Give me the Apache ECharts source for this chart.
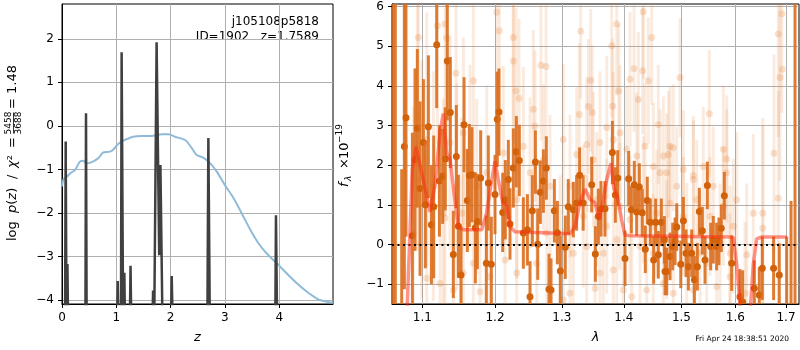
<!DOCTYPE html>
<html>
<head>
<meta charset="utf-8">
<title>redshift fit</title>
<script src="https://cdn.jsdelivr.net/npm/echarts@6.0.0/dist/echarts.min.js"></script>
<style>
	html, body { margin: 0; padding: 0; background: #fff; }
	#chart { width: 800px; height: 350px; }
</style>
</head>
<body>
<div id="chart"></div>
<script>
// ---- left panel: p(z) and chi2 ----
const zTicks = [0, 1, 2, 3, 4]
const pzTicks = [-4, -3, -2, -1, 0, 1, 2]

// chi2 curve (scaled), light blue
const chiZ = [0, 0.03, 0.086, 0.16, 0.24, 0.33, 0.39, 0.455, 0.547, 0.67, 0.76, 0.885, 0.946, 1.04, 1.13, 1.31, 1.47, 1.65, 1.84, 1.96, 2.08, 2.24, 2.3, 2.39, 2.48, 2.6, 2.73, 2.85, 3.0, 3.16, 3.31, 3.47, 3.62, 3.77, 3.96, 4.14, 4.33, 4.51, 4.7, 4.88, 4.99]
const chiVal = [-1.39, -1.22, -1.17, -1.08, -1.01, -0.82, -0.8, -0.86, -0.83, -0.74, -0.61, -0.59, -0.54, -0.41, -0.34, -0.25, -0.23, -0.23, -0.19, -0.19, -0.25, -0.31, -0.36, -0.51, -0.67, -0.73, -0.86, -1.05, -1.36, -1.66, -2.01, -2.39, -2.7, -2.93, -3.16, -3.39, -3.62, -3.81, -3.97, -4.04, -4.06]

// log p(z), dark spikes (values under -4.1 are off the axis)
const pzZ = [0, 0.055, 0.068, 0.082, 0.1, 0.115, 0.43, 0.442, 0.455, 1.01, 1.026, 1.042, 1.085, 1.098, 1.104, 1.125, 1.148, 1.165, 1.245, 1.262, 1.28, 1.66, 1.677, 1.7, 1.742, 1.765, 1.79, 1.812, 1.83, 1.855, 2.0, 2.02, 2.045, 2.675, 2.695, 2.705, 2.725, 3.925, 3.94, 3.95, 3.965, 4.99]
const pzVal = [-5, -5, -0.36, -4.5, -3.17, -5, -5, 0.29, -5, -5, -3.56, -5, -5, 1.69, 1.69, -4.5, -3.37, -5, -5, -3.21, -5, -5, -3.78, -4.3, 1.92, 1.92, -2.97, -0.9, -0.9, -5, -5, -3.45, -5, -5, -0.28, -0.28, -5, -5, -2.05, -2.05, -5, -5]

// ---- right panel: spectrum ----
const lamTicks = [1.1, 1.2, 1.3, 1.4, 1.5, 1.6, 1.7]
const fluxTicks = [-1, 0, 1, 2, 3, 4, 5, 6]

const darkWave = [1.062, 1.065, 1.0732, 1.0766, 1.0787, 1.087, 1.0904, 1.0935, 1.097, 1.1014, 1.104, 1.108, 1.112, 1.1151, 1.1191, 1.1227, 1.1271, 1.1307, 1.1334, 1.1375, 1.1416, 1.1457, 1.1485, 1.1521, 1.1563, 1.1609, 1.1637, 1.1674, 1.1721, 1.1749, 1.1796, 1.1876, 1.1904, 1.1947, 1.2, 1.2033, 1.2057, 1.2111, 1.2149, 1.2193, 1.2217, 1.2266, 1.231, 1.2354, 1.2414, 1.2474, 1.2513, 1.2548, 1.2594, 1.2629, 1.2669, 1.2715, 1.276, 1.2801, 1.2832, 1.2883, 1.293, 1.2976, 1.3053, 1.31, 1.3179, 1.3231, 1.3279, 1.3335, 1.3472, 1.3531, 1.358, 1.3623, 1.3688, 1.381, 1.3859, 1.3898, 1.402, 1.4082, 1.4127, 1.4177, 1.4217, 1.4262, 1.4313, 1.4365, 1.4399, 1.4451, 1.4509, 1.4544, 1.459, 1.4643, 1.4696, 1.4708, 1.4738, 1.4797, 1.4844, 1.4886, 1.4916, 1.4988, 1.5035, 1.5083, 1.5125, 1.5185, 1.5234, 1.5288, 1.5325, 1.538, 1.5429, 1.5472, 1.5534, 1.5583, 1.5645, 1.5689, 1.5733, 1.579, 1.5929, 1.6088, 1.614, 1.6367, 1.6465, 1.6524, 1.6749, 1.6863, 1.7013, 1.7102, 1.7184]
const darkFlux = [-3, -3, -2.0, 2.47, 3.2, 0.22, 2.14, 2.93, 1.41, 2.57, 1.0, 2.97, 0.5, 0.95, 5.04, 1.6, 1.72, 2.16, 4.63, 3.33, -0.25, 2.22, 0.46, -0.77, 3.02, 1.11, 1.74, 1.76, 0.42, 0.58, 1.68, -0.47, 1.55, -0.5, 1.26, 3.16, 3.34, 0.81, 1.13, 1.64, 0.52, 1.93, 2.34, 2.12, 0.29, 0.37, -1.32, 0.85, 2.08, 0.01, 1.32, 1.6, 1.93, -1.13, -1.15, 0.85, 0.3, -0.67, -0.07, 0.95, 0.88, 1.05, 1.75, 1.05, 1.51, -0.24, 0.71, 0.9, 0.9, 2.32, 1.25, 1.68, -0.35, 1.66, 0.88, 1.51, 0.82, 1.45, 0.8, -0.12, 1.11, 0.56, -0.39, 0.56, -0.26, 0.56, 0.12, -0.68, -0.68, -0.3, -0.05, 0.08, 0.44, -0.5, 0.6, -0.22, -0.56, -0.22, -0.89, -0.56, 0.83, 0.35, -0.39, 1.49, -0.05, 0.12, -0.05, 0.08, 0.41, 1.23, -0.47, -1.32, -1.45, -1.1, -1.27, -0.6, -0.6, -0.77, -2.0, -2.0, -3]
const darkErr = [10, 10, 3.9, 3.6, 3.0, 2.6, 2.3, 2.0, 2.2, 1.6, 1.6, 1.8, 1.5, 1.8, 1.6, 1.4, 1.2, 1.3, 1.5, 1.4, 1.1, 1.3, 1.3, 1.2, 1.2, 1.3, 1.3, 1.2, 1.4, 1.2, 1.2, 1.2, 1.2, 1.2, 1.0, 1.2, 1.1, 1.0, 1.0, 1.0, 0.9, 1.0, 0.9, 0.9, 0.9, 0.9, 0.9, 0.9, 0.8, 0.9, 0.8, 0.8, 0.8, 0.9, 0.8, 0.8, 0.8, 0.9, 0.8, 0.7, 0.7, 0.7, 0.7, 0.7, 0.7, 0.7, 0.7, 0.7, 0.7, 0.8, 0.7, 0.7, 0.7, 0.7, 0.6, 0.6, 0.6, 0.6, 0.6, 0.6, 0.6, 0.6, 0.6, 0.6, 0.6, 0.6, 0.6, 0.6, 0.6, 0.6, 0.6, 0.6, 0.6, 0.6, 0.6, 0.6, 0.6, 0.6, 0.6, 0.6, 0.6, 0.6, 0.6, 0.6, 0.6, 0.6, 0.6, 0.6, 0.6, 0.6, 0.7, 0.7, 0.8, 0.7, 0.7, 0.8, 0.8, 0.8, 2.2, 3.1, 10]

// faint points (other exposures)
const fadeWave = [1.0882, 1.0935, 1.0948, 1.0992, 1.1058, 1.1058, 1.1146, 1.12, 1.1236, 1.1281, 1.1303, 1.1303, 1.1326, 1.1371, 1.1416, 1.1453, 1.1463, 1.1554, 1.1554, 1.1531, 1.1646, 1.1693, 1.1693, 1.1741, 1.1787, 1.1881, 1.1928, 1.2024, 1.2062, 1.212, 1.2144, 1.2266, 1.2266, 1.2306, 1.2316, 1.2316, 1.235, 1.2414, 1.2513, 1.2563, 1.2588, 1.2614, 1.2679, 1.2715, 1.2756, 1.2766, 1.2817, 1.2971, 1.3022, 1.3022, 1.3127, 1.3127, 1.3179, 1.3233, 1.3274, 1.3296, 1.3338, 1.3392, 1.3392, 1.3418, 1.3456, 1.3482, 1.3498, 1.3526, 1.3553, 1.3607, 1.3607, 1.3661, 1.3717, 1.3717, 1.3799, 1.3816, 1.3826, 1.3826, 1.3882, 1.3882, 1.3915, 1.3937, 1.3937, 1.3993, 1.405, 1.4105, 1.4105, 1.4134, 1.4173, 1.4219, 1.4246, 1.4274, 1.432, 1.4331, 1.4331, 1.436, 1.4389, 1.4417, 1.4475, 1.4503, 1.4503, 1.4562, 1.459, 1.462, 1.4678, 1.4678, 1.4737, 1.4737, 1.4766, 1.4796, 1.4796, 1.4855, 1.4855, 1.4915, 1.4974, 1.5034, 1.5034, 1.5095, 1.5215, 1.5215, 1.5215, 1.5277, 1.5337, 1.5398, 1.546, 1.5509, 1.5522, 1.5584, 1.5647, 1.5709, 1.5771, 1.5771, 1.5835, 1.5835, 1.5898, 1.5898, 1.5961, 1.6026, 1.6186, 1.6219, 1.6347, 1.6534, 1.6534, 1.6757, 1.6844, 1.6844, 1.6878, 1.6913, 1.6925]
const fadeFlux = [0.29, 3.24, 5.22, 1.64, -0.85, 2.65, 1.47, 5.52, -0.98, 0.79, 5.56, 0.67, 5.21, 2.57, -1.15, 4.32, 1.47, 2.82, -0.72, 0.79, 2.23, 4.13, -0.47, 1.47, -1.19, 1.81, -0.81, 5.86, 5.39, 2.31, -0.39, 5.22, 4.63, 3.87, 1.13, -0.72, 3.69, 2.48, 1.81, 3.41, 2.99, -0.47, 4.52, 2.14, 4.49, 0.29, 1.47, -0.05, 2.65, -1.4, 1.47, -1.23, -0.22, 2.27, 3.28, 5.38, 0.71, 2.52, -0.05, 3.48, 4.14, 3.33, 2.14, -1.1, 1.13, 2.57, -0.72, -0.22, 2.95, 0.46, 5.01, 3.49, 2.65, -0.64, 5.56, 0.12, 3.87, 2.82, 0.96, -1.15, 2.4, 4.17, 0.63, -1.32, 4.44, 2.23, 3.66, -0.05, 4.38, 5.87, 1.13, 2.48, -1.15, 4.13, 5.22, 1.97, -0.22, 0.79, 3.03, 1.81, 2.23, -0.98, 1.81, 0.12, 2.27, 1.05, 2.48, 2.44, -1.23, 1.47, 4.21, 1.89, 0.71, -0.05, 1.64, -1.15, 1.74, 1.13, -0.22, 1.97, -0.47, 3.3, 0.71, 1.47, -1.06, 0.04, 2.4, 0.96, 1.81, 2.16, -0.81, -0.22, 0.46, 1.13, -1.23, -0.26, 0.79, 0.79, 0.41, 2.3, 5.31, 1.17, 4.21, 5.82, 4.42]
const fadeErr = [3.2, 3.4, 3.3, 3.0, 3.1, 3.2, 2.9, 3.0, 2.8, 2.9, 2.7, 2.8, 2.6, 2.7, 2.6, 2.5, 2.6, 2.4, 2.5, 2.4, 2.3, 2.4, 2.3, 2.2, 2.3, 2.2, 2.3, 2.2, 2.1, 2.2, 2.1, 2.2, 2.0, 2.1, 2.0, 2.1, 2.0, 2.0, 1.9, 2.0, 1.9, 2.0, 1.9, 1.9, 1.8, 1.9, 1.8, 1.8, 1.9, 1.8, 1.8, 1.7, 1.8, 1.7, 1.8, 1.7, 1.8, 1.7, 1.8, 1.7, 1.8, 1.7, 1.7, 1.8, 1.7, 1.8, 1.7, 1.7, 1.8, 1.7, 1.8, 1.7, 1.7, 1.7, 1.8, 1.6, 1.7, 1.7, 1.6, 1.7, 1.6, 1.7, 1.6, 1.7, 1.6, 1.6, 1.7, 1.6, 1.6, 1.7, 1.6, 1.6, 1.6, 1.6, 1.7, 1.6, 1.5, 1.6, 1.5, 1.6, 1.5, 1.6, 1.5, 1.5, 1.6, 1.5, 1.5, 1.6, 1.5, 1.5, 1.5, 1.5, 1.5, 1.6, 1.5, 1.5, 1.5, 1.5, 1.6, 1.5, 1.5, 1.6, 1.5, 1.5, 1.6, 1.5, 1.6, 1.5, 1.6, 1.6, 1.6, 1.7, 1.7, 1.7, 1.8, 1.8, 2.0, 2.4, 2.6, 2.5, 2.6, 2.7, 2.6, 2.5]

// best-fit model
const modelWave = [1.076, 1.0804, 1.0869, 1.0917, 1.097, 1.1036, 1.1102, 1.1168, 1.1236, 1.128, 1.1326, 1.1371, 1.1425, 1.1484, 1.1553, 1.1811, 1.1881, 1.1953, 1.2, 1.2047, 1.2111, 1.2169, 1.2217, 1.2291, 1.3127, 1.3205, 1.3285, 1.3364, 1.3445, 1.3526, 1.3596, 1.3661, 1.3717, 1.3788, 1.3837, 1.3892, 1.3965, 1.402, 1.4104, 1.5897, 1.596, 1.6025, 1.6088, 1.614, 1.625, 1.6296, 1.6347, 1.6413, 1.6512, 1.7013]
const modelFlux = [-3, -1.5, 1.9, 2.47, 2.0, 1.42, 0.82, 1.5, 2.85, 3.3, 2.3, 2.15, 1.3, 0.45, 0.37, 0.37, 0.8, 1.64, 2.1, 1.64, 1.05, 1.0, 0.45, 0.32, 0.27, 0.45, 1.05, 1.4, 1.14, 1.05, 0.62, 1.14, 1.64, 2.05, 1.4, 1.22, 0.62, 0.24, 0.22, 0.19, 0.17, -0.5, -1.5, -3, -3, -1.5, -0.5, 0.14, 0.19, 0.19]

const font = "DejaVu Sans"
const minus = (v) => (v < 0 ? "\u2212" + Math.abs(v) : String(v))

function errBars(barColor, dotColor, barWidth, radius) {
	return function (params, api) {
		const x = api.value(0)
		const y = api.value(1)
		const e = api.value(2)
		const lo = api.coord([x, y - e])
		const hi = api.coord([x, y + e])
		const c = api.coord([x, y])
		return {
			type: "group",
			children: [
				{
					type: "line",
					shape: { x1: lo[0], y1: lo[1], x2: hi[0], y2: hi[1] },
					style: { stroke: barColor, lineWidth: barWidth },
				},
				{
					type: "circle",
					shape: { cx: c[0], cy: c[1], r: radius },
					style: { fill: dotColor },
				},
			],
		}
	}
}

function axisStyle(ticks, fmt) {
	return {
		axisLine: { show: true, onZero: false, lineStyle: { color: "#000", width: 1 } },
		axisTick: { show: true, length: 4, customValues: ticks, lineStyle: { color: "#000" } },
		axisLabel: { customValues: ticks, color: "#000", fontSize: 12, fontFamily: font, formatter: fmt },
		splitLine: { show: true, lineStyle: { color: "#b0b0b0", width: 1 } },
	}
}

const frame = { show: true, borderColor: "#000", borderWidth: 1, backgroundColor: "transparent" }

const myChart = echarts.init(document.getElementById("chart"), null, { renderer: "canvas" })

let option = {
	animation: false,
	grid: [
		Object.assign({ left: 62, top: 4, width: 271, height: 300 }, frame),
		Object.assign({ left: 392, top: 4, width: 407, height: 300 }, frame),
	],
	xAxis: [
		Object.assign(
			{
				gridIndex: 0,
				type: "value",
				min: 0,
				max: 4.99,
				name: "z",
				nameLocation: "middle",
				nameGap: 27,
				nameTextStyle: { fontStyle: "italic", fontSize: 13, color: "#000", fontFamily: font },
			},
			axisStyle(zTicks, minus)
		),
		Object.assign(
			{
				gridIndex: 1,
				type: "log",
				logBase: 10,
				min: 1.0608,
				max: 1.7266,
				name: "λ",
				nameLocation: "middle",
				nameGap: 27,
				nameTextStyle: { fontStyle: "italic", fontSize: 13, color: "#000", fontFamily: font },
			},
			axisStyle(lamTicks, (v) => Number(v).toFixed(1))
		),
	],
	yAxis: [
		Object.assign({ gridIndex: 0, type: "value", min: -4.09, max: 2.8 }, axisStyle(pzTicks, minus)),
		Object.assign({ gridIndex: 1, type: "value", min: -1.5, max: 6.066 }, axisStyle(fluxTicks, minus)),
	],
	series: [
		{
			name: "chi2",
			type: "line",
			xAxisIndex: 0,
			yAxisIndex: 0,
			data: chiZ.map((z, i) => [z, chiVal[i]]),
			smooth: 0.3,
			showSymbol: false,
			lineStyle: { color: "#8fbbd9", width: 2 },
			z: 2,
		},
		{
			name: "pz",
			type: "line",
			xAxisIndex: 0,
			yAxisIndex: 0,
			data: pzZ.map((z, i) => [z, pzVal[i]]),
			showSymbol: false,
			clip: true,
			lineStyle: { color: "#404040", width: 2.5 },
			z: 3,
		},
		{
			name: "faint",
			type: "custom",
			xAxisIndex: 1,
			yAxisIndex: 1,
			clip: true,
			encode: { x: 0, y: 1 },
			data: fadeWave.map((w, i) => [w, fadeFlux[i], fadeErr[i]]),
			renderItem: errBars("rgba(228,120,40,0.15)", "rgba(228,120,40,0.22)", 3, 3.5),
			z: 2,
		},
		{
			name: "flux",
			type: "custom",
			xAxisIndex: 1,
			yAxisIndex: 1,
			clip: true,
			encode: { x: 0, y: 1 },
			data: darkWave.map((w, i) => [w, darkFlux[i], darkErr[i]]),
			renderItem: errBars("rgba(218,110,30,0.9)", "#d2620a", 3, 3.5),
			z: 3,
		},
		{
			name: "model",
			type: "line",
			xAxisIndex: 1,
			yAxisIndex: 1,
			data: modelWave.map((w, i) => [w, modelFlux[i]]),
			showSymbol: false,
			clip: true,
			lineStyle: { color: "rgba(255,40,15,0.5)", width: 3.5 },
			markLine: {
				silent: true,
				symbol: "none",
				label: { show: false },
				lineStyle: { color: "#000", type: [2, 3.5], width: 2, opacity: 1 },
				data: [{ yAxis: 0 }],
			},
			z: 5,
		},
	],
	graphic: [
		{
			type: "text",
			x: 319,
			y: 22,
			style: { text: "j105108p5818", align: "right", verticalAlign: "middle", fontSize: 12, fontFamily: font, fill: "#000" },
		},
		{
			type: "text",
			x: 319,
			y: 37,
			style: { text: "ID=1902   z=1.7589", align: "right", verticalAlign: "middle", fontSize: 12, fontFamily: font, fill: "#000" },
		},
		{
			// left y label, rotated
			type: "group",
			x: 13,
			y: 242,
			rotation: Math.PI / 2,
			children: [
				{ type: "text", x: 1, y: 0, style: { text: "log", verticalAlign: "middle", fontSize: 13, fontFamily: font, fill: "#000" } },
				{
					type: "text",
					x: 29,
					y: 0,
					style: {
						text: "{i|p}{n|(}{i|z}{n|)}",
						verticalAlign: "middle",
						rich: {
							i: { fontStyle: "italic", fontSize: 13, fontFamily: font, fill: "#000" },
							n: { fontSize: 13, fontFamily: font, fill: "#000" },
						},
					},
				},
				{ type: "text", x: 63, y: 0, style: { text: "/", verticalAlign: "middle", fontSize: 13, fontFamily: font, fill: "#000" } },
				{
					type: "text",
					x: 74,
					y: 0,
					style: {
						text: "{i|χ}{n|²}",
						verticalAlign: "middle",
						rich: {
							i: { fontStyle: "italic", fontSize: 13, fontFamily: font, fill: "#000" },
							n: { fontSize: 13, fontFamily: font, fill: "#000" },
						},
					},
				},
				{ type: "text", x: 94, y: 0, style: { text: "=", verticalAlign: "middle", fontSize: 13, fontFamily: font, fill: "#000" } },
				{ type: "text", x: 119, y: -4.5, style: { text: "5458", align: "center", verticalAlign: "middle", fontSize: 9, fontFamily: font, fill: "#000" } },
				{ type: "line", shape: { x1: 108.5, y1: 0.5, x2: 129.5, y2: 0.5 }, style: { stroke: "#000", lineWidth: 0.8 } },
				{ type: "text", x: 119, y: 5.5, style: { text: "3688", align: "center", verticalAlign: "middle", fontSize: 9, fontFamily: font, fill: "#000" } },
				{ type: "text", x: 133, y: 0, style: { text: "=", verticalAlign: "middle", fontSize: 13, fontFamily: font, fill: "#000" } },
				{ type: "text", x: 148, y: 0, style: { text: "1.48", verticalAlign: "middle", fontSize: 13, fontFamily: font, fill: "#000" } },
			],
		},
		{
			// right y label, rotated
			type: "group",
			x: 345,
			y: 188,
			rotation: Math.PI / 2,
			children: [
				{ type: "text", x: 1, y: 0, style: { text: "f", verticalAlign: "middle", fontStyle: "italic", fontSize: 13, fontFamily: font, fill: "#000" } },
				{ type: "text", x: 7, y: 4, style: { text: "λ", verticalAlign: "middle", fontStyle: "italic", fontSize: 9, fontFamily: font, fill: "#000" } },
				{ type: "text", x: 19, y: 0, style: { text: "×", verticalAlign: "middle", fontSize: 13, fontFamily: font, fill: "#000" } },
				{ type: "text", x: 29, y: 0, style: { text: "10", verticalAlign: "middle", fontSize: 13, fontFamily: font, fill: "#000" } },
				{ type: "text", x: 45, y: -5, style: { text: "\u221219", verticalAlign: "middle", fontSize: 9, fontFamily: font, fill: "#000" } },
			],
		},
		{
			type: "text",
			x: 789,
			y: 339,
			style: { text: "Fri Apr 24 18:38:51 2020", align: "right", verticalAlign: "middle", fontSize: 7.5, fontFamily: font, fill: "#000" },
		},
	],
}

myChart.setOption(option)
window.addEventListener("resize", () => {
	myChart.resize()
})
</script>
</body>
</html>
